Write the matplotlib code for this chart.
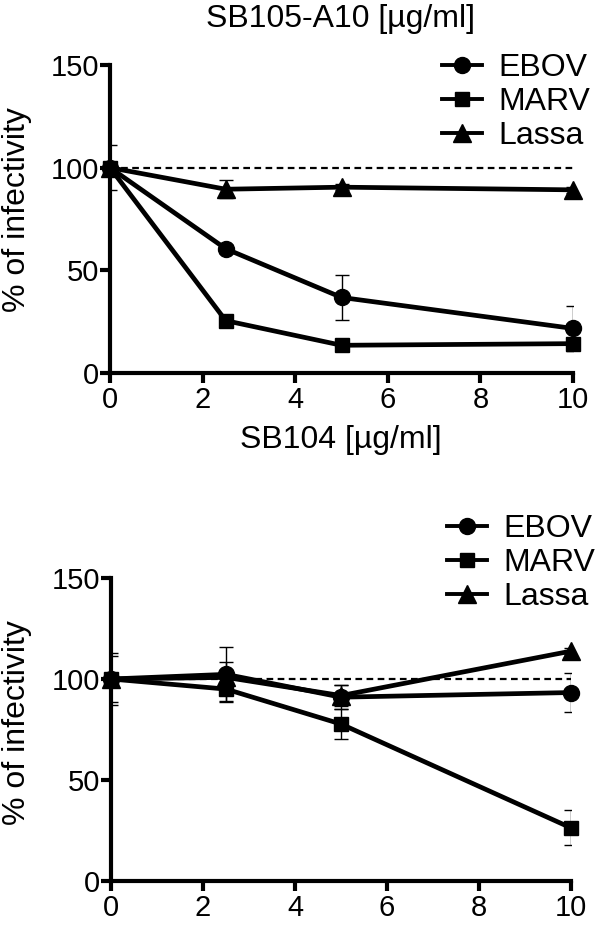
import numpy as np
import matplotlib.pyplot as plt

plt.rcParams['font.family'] = ['Liberation Sans', 'DejaVu Sans']

conc = [0, 2.5, 5, 10]
names = ['EBOV', 'MARV', 'Lassa']
markers = ['o', 's', '^']
msizes = [11.5, 10, 12.5]

# SB105-A10 panel
top_ebov = [100, 60.5, 36.8, 21.7]
top_ebov_err = [11, 2, 11, 11]
top_marv = [100, 25.5, 13.5, 14.3]
top_marv_err = [3, 2, 1.5, 1.5]
top_lassa = [100, 89.5, 90.5, 89.2]
top_lassa_err = [3, 4.5, 1.5, 1.5]

# SB104 panel
bot_ebov = [100, 102.3, 91.0, 93.3]
bot_ebov_err = [13, 13.6, 6, 9.5]
bot_marv = [100, 95.0, 77.7, 26.3]
bot_marv_err = [11.3, 6, 7.5, 8.7]
bot_lassa = [100, 100.8, 91.8, 113.8]
bot_lassa_err = [3, 7.5, 5, 1.5]

FS = 23
TICK_FS = 21
W, H = 600, 926


def draw_panel(ax, series, errs, legend_anchor):
    ax.plot([0, 10], [100, 100], color='black', lw=1.6, ls=(0, (3, 2)), zorder=1)
    for y, e, m, ms, name in zip(series, errs, markers, msizes, names):
        ax.errorbar(conc, y, yerr=e, fmt='none', ecolor='black', elinewidth=1.0,
                    capsize=5, capthick=1.0, zorder=2)
        ax.plot(conc, y, color='black', lw=3.4, marker=m, markersize=ms,
                clip_on=False, zorder=5, label=name)
    ax.set_xlim(0, 10)
    ax.set_ylim(0, 150)
    ax.set_xticks(np.arange(0, 11, 2))
    ax.set_yticks([0, 50, 100, 150])
    for s in ['top', 'right']:
        ax.spines[s].set_visible(False)
    for s in ['left', 'bottom']:
        ax.spines[s].set_linewidth(3)
    ax.tick_params(axis='both', direction='out', length=7, width=3, labelsize=TICK_FS)
    ax.tick_params(axis='y', pad=1)
    ax.tick_params(axis='x', pad=2.5)
    leg = ax.legend(loc='upper left', bbox_to_anchor=legend_anchor,
                    bbox_transform=ax.figure.transFigure, frameon=False, fontsize=FS,
                    handlelength=1.25, handletextpad=0.5, labelspacing=0.13,
                    borderpad=0, borderaxespad=0)
    for h in leg.legend_handles:
        h.set_linewidth(2.8)


fig = plt.figure(figsize=(W / 100, H / 100), dpi=100)
ax1 = fig.add_axes([110 / W, 1 - 373 / H, 463 / W, 308 / H])
ax2 = fig.add_axes([111 / W, 1 - 881 / H, 460 / W, 303 / H])

draw_panel(ax1, [top_ebov, top_marv, top_lassa], [top_ebov_err, top_marv_err, top_lassa_err],
           (442 / W, 1 - 53 / H))
draw_panel(ax2, [bot_ebov, bot_marv, bot_lassa], [bot_ebov_err, bot_marv_err, bot_lassa_err],
           (447 / W, 1 - 514 / H))

fig.text(341 / W, 1 - 19 / H, 'SB105-A10 [µg/ml]', ha='center', va='center', fontsize=FS)
fig.text(341 / W, 1 - 440 / H, 'SB104 [µg/ml]', ha='center', va='center', fontsize=FS)
fig.text(17 / W, 1 - 210 / H, '% of infectivity', rotation=90, ha='center', va='center', fontsize=FS)
fig.text(17 / W, 1 - 723 / H, '% of infectivity', rotation=90, ha='center', va='center', fontsize=FS)

fig.savefig('out.png', dpi=100)
